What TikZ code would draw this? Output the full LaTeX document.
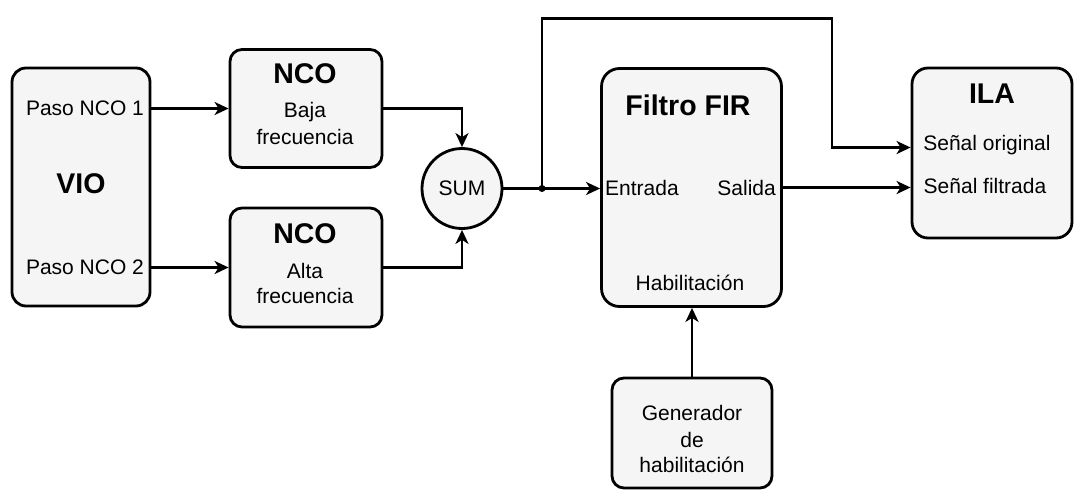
\documentclass[tikz,border=0pt]{standalone}
\usepackage{fontspec}
\setmainfont{Liberation Sans}
\usetikzlibrary{arrows.meta}
\definecolor{boxfill}{HTML}{F5F5F5}
\tikzset{
  blk/.style={draw, line width=2.8pt, fill=boxfill, rounded corners=#1, inner sep=0pt},
  blk/.default=14pt,
  lbl/.style={inner sep=0pt, anchor=base, font=\fontsize{21}{25}\selectfont},
  ttl/.style={inner sep=0pt, anchor=base, font=\fontsize{28.5}{32}\selectfont\bfseries},
  wire/.style={line width=2.9pt, -{Stealth[length=14pt,width=13pt,inset=4pt]}},
}
\begin{document}
\begin{tikzpicture}[x=1pt,y=-1pt]
    \useasboundingbox (0,0) rectangle (1084,501);
    % blocks
    \node[blk, minimum width=138pt, minimum height=238pt] (VIO) at (81,187) {};
    \node[blk=12pt, minimum width=152pt, minimum height=118pt] (NCO_1) at (306,108.5) {};
    \node[blk=12pt, minimum width=152pt, minimum height=119pt] (NCO_2) at (306,267.5) {};
    \node[draw, circle, line width=2.8pt, fill=boxfill, minimum size=80pt, inner sep=0pt] (SUM) at (462,188.5) {};
    \node[blk=18pt, minimum width=180pt, minimum height=238pt] (FIR) at (691.5,187.5) {};
    \node[blk=16pt, minimum width=160pt, minimum height=170pt] (ILA) at (992,153) {};
    \node[blk=12pt, minimum width=160pt, minimum height=110pt] (GEN) at (692,433) {};
    % texts
    \node[lbl] (VIO_p1) at (85,115) {Paso NCO 1};
    \node[ttl] (VIO_t) at (81,193) {VIO};
    \node[lbl] (VIO_p2) at (85,274) {Paso NCO 2};
    \node[ttl] (NCO_1t) at (305,83) {NCO};
    \node[lbl] (NCO_1a) at (305,117) {Baja};
    \node[lbl] (NCO_1b) at (305,144) {frecuencia};
    \node[ttl] (NCO_2t) at (305,243) {NCO};
    \node[lbl] (NCO_2a) at (305,278) {Alta};
    \node[lbl] (NCO_2b) at (305,303) {frecuencia};
    \node[lbl] (SUM_t) at (462,195) {SUM};
    \node[ttl] (FIR_t) at (688,115) {Filtro FIR};
    \node[lbl, anchor=base west] (FIR_in) at (605,195) {Entrada};
    \node[lbl, anchor=base east] (FIR_out) at (776,195) {Salida};
    \node[lbl] (FIR_en) at (690,290) {Habilitación};
    \node[ttl] (ILA_t) at (992,103) {ILA};
    \node[lbl] (ILA_a) at (987,150) {Señal original};
    \node[lbl] (ILA_b) at (985,193) {Señal filtrada};
    \node[lbl] (GEN_a) at (692,420) {Generador};
    \node[lbl] (GEN_b) at (692,447) {de};
    \node[lbl] (GEN_c) at (692,472) {habilitación};
    % connectors
    \coordinate (J) at (542,188.5);
    \coordinate (T) at (832,18.5);
    \coordinate (ILA_in) at ([yshift=5.5pt]ILA.west);
    \path (VIO.east |- NCO_1) edge [wire] (NCO_1.west);
    \path (VIO.east |- NCO_2) edge [wire] (NCO_2.west);
    \draw[wire] (NCO_1.east) -| (SUM.north);
    \draw[wire] (NCO_2.east) -| (SUM.south);
    \path (SUM.east) edge [wire] (SUM.east -| FIR.west);
    \draw[wire] (J) |- (T) |- (ILA_in);
    \fill (J) circle (3.5pt);
    \path (FIR.east) edge [wire] (FIR.east -| ILA.west);
    \path (GEN.north) edge [wire] (GEN.north |- FIR.south);
  \end{tikzpicture}
\end{document}
